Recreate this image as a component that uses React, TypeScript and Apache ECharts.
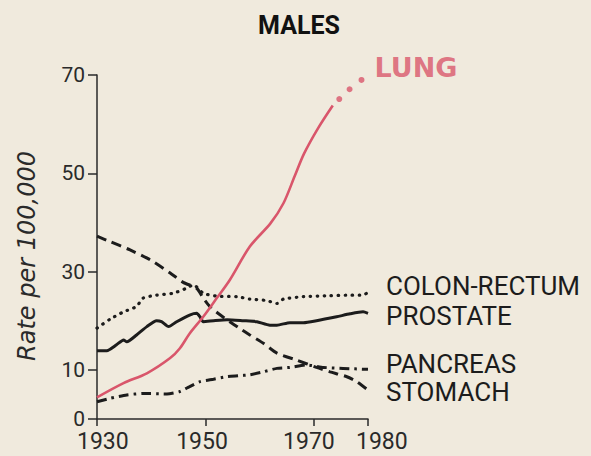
import React, { useEffect, useRef } from "react";
import * as echarts from "echarts";

// ---- data (rate per 100,000, males) ----
const xTicks = [1930, 1950, 1970, 1980];
const yTicks = [0, 10, 30, 50, 70];

const lungYears = [1930, 1934.9, 1939.2, 1943.5, 1945.3, 1947.1, 1949.6, 1952.1, 1954.5, 1958.2, 1962, 1964.4, 1966.5, 1968.2, 1970.8, 1973.5];
const lungValues = [4.4, 7.3, 9.3, 12.4, 14.4, 17.4, 20.8, 24.6, 28.3, 35.1, 39.8, 43.9, 49.5, 54, 59.2, 63.8];
const lungDotYears = [1974.7, 1976.6, 1978.8];
const lungDotValues = [65.1, 67.1, 69.0];

const colonYears = [1930, 1932.4, 1934.9, 1937.3, 1938.5, 1941, 1944.1, 1946.5, 1947.8, 1949.6, 1952.1, 1955.8, 1958.2, 1961.3, 1963.2, 1964.4, 1968.1, 1973, 1976.7, 1979.1, 1980];
const colonValues = [18.5, 20.3, 21.8, 22.9, 24.6, 25.2, 25.6, 26.6, 27.3, 25.6, 25.0, 24.9, 24.4, 24.1, 23.5, 24.4, 24.9, 25.1, 25.2, 25.2, 25.8];

const prostateYears = [1930, 1931.8, 1933.6, 1934.9, 1935.5, 1937.3, 1939.2, 1941, 1941.9, 1943.2, 1944.7, 1947.2, 1948.4, 1949, 1949.6, 1951.5, 1954, 1957, 1959.5, 1961.9, 1963.2, 1965.6, 1968.1, 1970.5, 1974.2, 1976.7, 1979.1, 1980];
const prostateValues = [13.9, 13.9, 15.1, 16.1, 15.7, 17.1, 18.8, 20.0, 19.8, 18.8, 19.8, 21.2, 21.5, 20.8, 19.8, 20.0, 20.2, 20.0, 19.8, 19.1, 19.1, 19.6, 19.6, 20.0, 20.8, 21.4, 21.8, 21.5];

const stomachYears = [1930, 1932.4, 1936.1, 1939.8, 1943.5, 1945.9, 1948.4, 1949.6, 1950.8, 1952.7, 1954.5, 1956.1, 1958.2, 1960.7, 1963.2, 1966.8, 1970.5, 1973, 1976.1, 1977.9, 1980];
const stomachValues = [37.2, 36.1, 34.4, 32.4, 29.7, 27.8, 26.6, 24.6, 22.9, 21.2, 19.8, 18.6, 17.1, 15.4, 13.4, 12.0, 10.5, 9.6, 8.6, 7.6, 5.9];

const pancreasYears = [1930, 1932.4, 1935.5, 1938.5, 1942.9, 1945.3, 1947.1, 1949, 1951.5, 1953.9, 1956, 1958.2, 1960.7, 1963.2, 1965.6, 1968.7, 1971.8, 1975.4, 1980];
const pancreasValues = [3.5, 4.2, 4.9, 5.2, 5.1, 5.6, 6.6, 7.6, 8.1, 8.6, 8.8, 9.0, 9.6, 10.3, 10.5, 11.0, 10.5, 10.3, 10.1];

const zip = (xs: number[], ys: number[]) => xs.map((x, i) => [x, ys[i]]);

const RED = "#d9566b";
const INK = "#1c1c1c";
const AXIS = "#2a2a2a";
const BG = "#f0eadd";
const SANS = "Roboto, 'Liberation Sans', sans-serif";

export default function App() {
  const ref = useRef<HTMLDivElement>(null);

  useEffect(() => {
    if (!ref.current) return;
    const chart = echarts.init(ref.current, null, { renderer: "svg" });

    const endLabel = (name: string, dy: number) => ({
      show: true,
      formatter: name,
      distance: 18,
      offset: [0, dy],
      fontFamily: SANS,
      fontSize: 26,
      lineHeight: 20,
      color: INK,
    });

    const xTickText = { fontFamily: SANS, fontSize: 23, color: AXIS, lineHeight: 20 };

    chart.setOption({
      animation: false,
      backgroundColor: BG,
      title: {
        text: "MALES",
        left: 299,
        top: 13,
        padding: 0,
        textAlign: "center",
        textStyle: {
          fontFamily: SANS,
          fontWeight: "bold",
          fontSize: 25,
          color: "#111",
        },
      },
      grid: { left: 97, right: 223, top: 75, bottom: 37, containLabel: false },
      xAxis: {
        type: "value",
        min: 1930,
        max: 1980,
        interval: 10,
        splitLine: { show: false },
        axisLine: { lineStyle: { color: AXIS, width: 1.5 } },
        axisTick: { show: true, length: 7, customValues: xTicks, lineStyle: { color: AXIS, width: 1.5 } },
        axisLabel: {
          customValues: xTicks,
          showMinLabel: true,
          showMaxLabel: true,
          hideOverlap: false,
          margin: 12,
          formatter: (v: number) => {
            if (v === 1930) return "{a|" + v + "}";
            if (v === 1950) return "{b|" + v + "}";
            if (v === 1970) return "{c|" + v + "}";
            if (v === 1980) return "{d|" + v + "}";
            return "";
          },
          rich: {
            a: { ...xTickText, width: 40, align: "left" },
            b: { ...xTickText, width: 45, align: "right" },
            c: { ...xTickText, width: 42, align: "right" },
            d: { ...xTickText, width: 24, align: "left" },
          },
        },
      },
      yAxis: {
        type: "value",
        min: 0,
        max: 70,
        interval: 10,
        name: "Rate per 100,000",
        nameLocation: "middle",
        nameGap: 58,
        nameTextStyle: {
          fontFamily: "'DejaVu Sans', sans-serif",
          fontStyle: "italic",
          fontSize: 24,
          color: AXIS,
          padding: [0, 18, 0, 0],
        },
        splitLine: { show: false },
        axisLine: { show: true, lineStyle: { color: AXIS, width: 1.5 } },
        axisTick: { show: true, length: 9, customValues: yTicks, lineStyle: { color: AXIS, width: 1.5 } },
        axisLabel: {
          customValues: yTicks,
          margin: 12,
          formatter: (v: number) => (yTicks.includes(v) ? String(v) : ""),
          fontFamily: SANS,
          fontSize: 21,
          lineHeight: 16,
          color: AXIS,
        },
      },
      series: [
        {
          name: "COLON-RECTUM",
          type: "line",
          data: zip(colonYears, colonValues),
          showSymbol: false,
          symbol: "none",
          smooth: 0.2,
          lineStyle: { color: INK, width: 3.2, type: [0.5, 6.5], cap: "round" },
          endLabel: endLabel("COLON-RECTUM", -6),
        },
        {
          name: "PROSTATE",
          type: "line",
          data: zip(prostateYears, prostateValues),
          showSymbol: false,
          symbol: "none",
          smooth: 0.2,
          lineStyle: { color: INK, width: 3 },
          endLabel: endLabel("PROSTATE", 3),
        },
        {
          name: "PANCREAS",
          type: "line",
          data: zip(pancreasYears, pancreasValues),
          showSymbol: false,
          symbol: "none",
          smooth: 0.2,
          lineStyle: { color: INK, width: 3, type: [10, 5, 2.5, 5] },
          endLabel: endLabel("PANCREAS", -5),
        },
        {
          name: "STOMACH",
          type: "line",
          data: zip(stomachYears, stomachValues),
          showSymbol: false,
          symbol: "none",
          smooth: 0.2,
          lineStyle: { color: INK, width: 3, type: [10, 6] },
          endLabel: endLabel("STOMACH", 2),
        },
        {
          name: "LUNG",
          type: "line",
          data: zip(lungYears, lungValues),
          showSymbol: false,
          symbol: "none",
          smooth: 0.3,
          lineStyle: { color: RED, width: 2.6 },
          z: 5,
        },
        {
          name: "LUNG (provisional)",
          type: "scatter",
          data: zip(lungDotYears, lungDotValues).map((d, i, arr) =>
            i === arr.length - 1
              ? {
                  value: d,
                  label: {
                    show: true,
                    formatter: "LUNG",
                    position: "right",
                    distance: 10,
                    offset: [0, -12],
                    fontFamily: "'DejaVu Sans', sans-serif",
                    fontWeight: "bold",
                    fontSize: 27,
                    color: RED,
                  },
                }
              : d
          ),
          symbol: "circle",
          symbolSize: 6,
          itemStyle: { color: RED },
          z: 5,
        },
      ],
    });

    return () => chart.dispose();
  }, []);

  return (
    <div
      ref={ref}
      style={{ position: "fixed", left: 0, top: 0, width: 591, height: 456 }}
    />
  );
}
